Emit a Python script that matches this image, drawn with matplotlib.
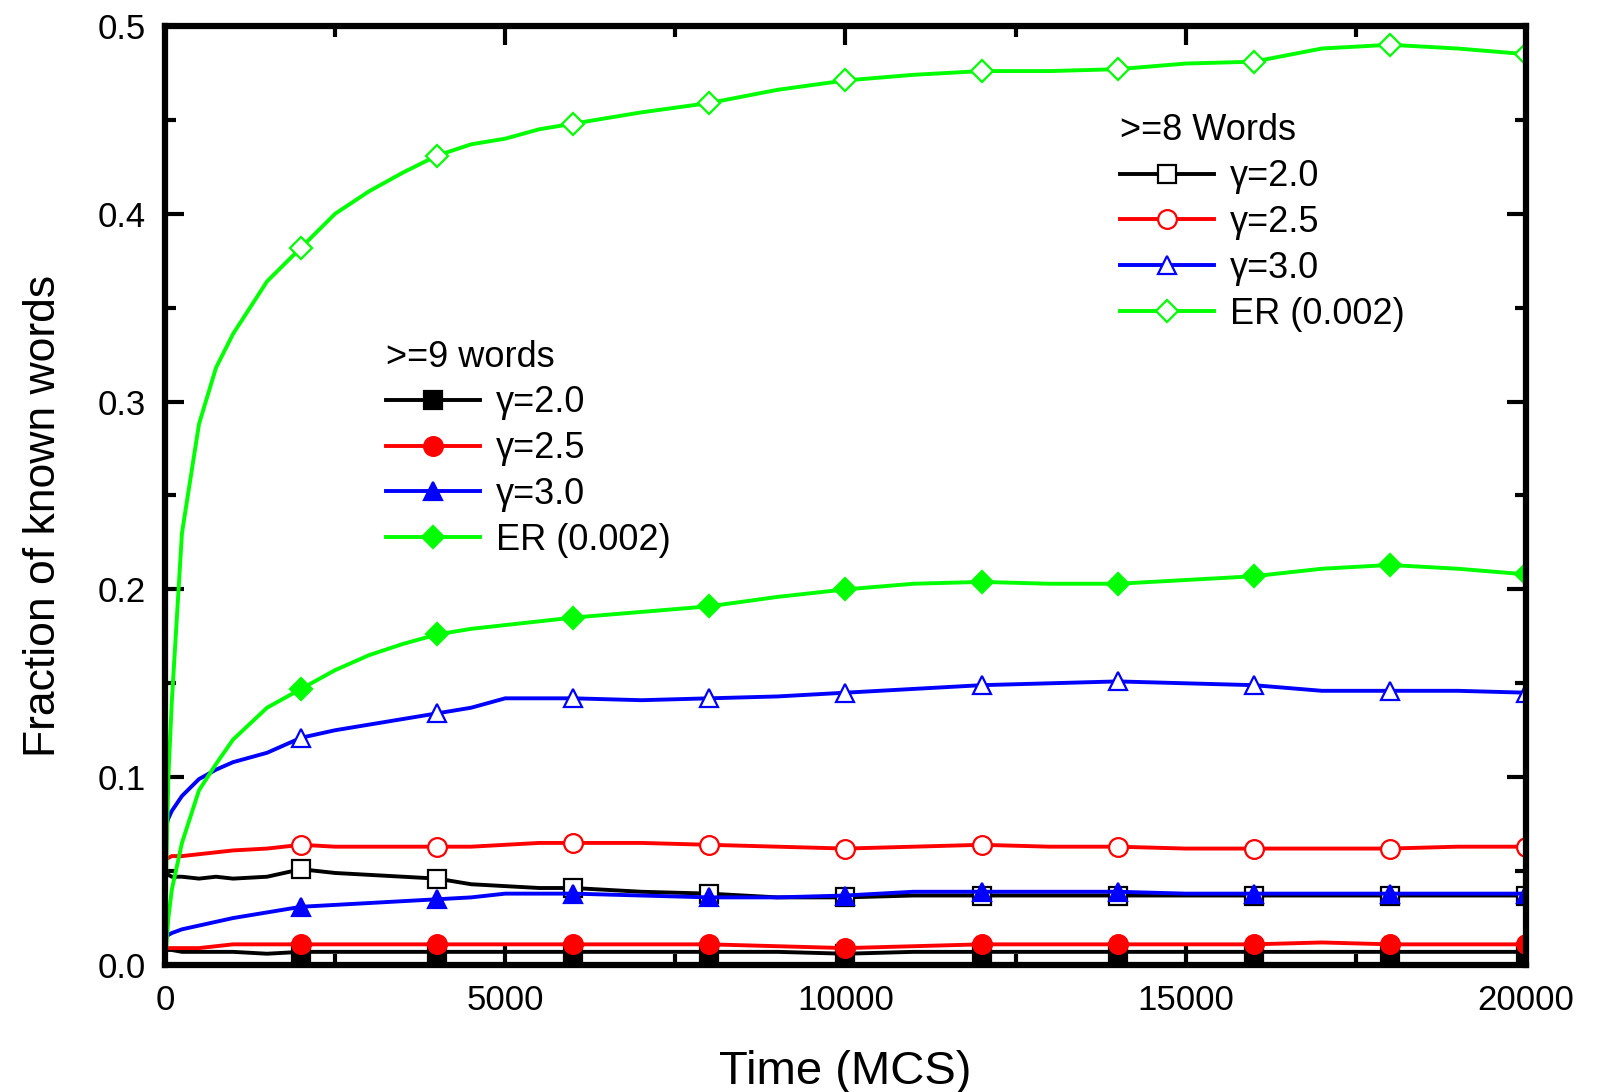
import matplotlib
matplotlib.use("Agg")
import matplotlib.pyplot as plt
from matplotlib.ticker import MultipleLocator, FormatStrFormatter

plt.rcParams["font.family"] = ["Liberation Sans", "DejaVu Sans"]

# Time axis (MCS)
T = [0, 50, 100, 250, 500, 750, 1000, 1500, 2000, 2500, 3000, 3500, 4000, 4500,
     5000, 5500, 6000, 7000, 8000, 9000, 10000, 11000, 12000, 13000, 14000,
     15000, 16000, 17000, 18000, 19000, 20000]

# >=8 Words
w8_g20 = [0.049, 0.048, 0.047, 0.047, 0.046, 0.047, 0.046, 0.047, 0.051, 0.049,
          0.048, 0.047, 0.046, 0.043, 0.042, 0.041, 0.041, 0.039, 0.038, 0.036,
          0.036, 0.037, 0.037, 0.037, 0.037, 0.037, 0.037, 0.037, 0.037, 0.037, 0.037]
w8_g25 = [0.057, 0.057, 0.058, 0.058, 0.059, 0.060, 0.061, 0.062, 0.064, 0.063,
          0.063, 0.063, 0.063, 0.063, 0.064, 0.065, 0.065, 0.065, 0.064, 0.063,
          0.062, 0.063, 0.064, 0.063, 0.063, 0.062, 0.062, 0.062, 0.062, 0.063, 0.063]
w8_g30 = [0.072, 0.078, 0.082, 0.090, 0.099, 0.104, 0.108, 0.113, 0.121, 0.125,
          0.128, 0.131, 0.134, 0.137, 0.142, 0.142, 0.142, 0.141, 0.142, 0.143,
          0.145, 0.147, 0.149, 0.150, 0.151, 0.150, 0.149, 0.146, 0.146, 0.146, 0.145]
w8_er = [0.020, 0.100, 0.140, 0.230, 0.288, 0.318, 0.336, 0.364, 0.382, 0.400,
         0.412, 0.422, 0.431, 0.437, 0.440, 0.445, 0.448, 0.454, 0.459, 0.466,
         0.471, 0.474, 0.476, 0.476, 0.477, 0.480, 0.481, 0.488, 0.490, 0.488, 0.485]

# >=9 words
w9_g20 = [0.008, 0.008, 0.008, 0.007, 0.007, 0.007, 0.007, 0.006, 0.007, 0.007,
          0.007, 0.007, 0.007, 0.007, 0.007, 0.007, 0.007, 0.007, 0.007, 0.007,
          0.006, 0.007, 0.007, 0.007, 0.007, 0.007, 0.007, 0.007, 0.007, 0.007, 0.007]
w9_g25 = [0.009, 0.009, 0.009, 0.009, 0.009, 0.010, 0.011, 0.011, 0.011, 0.011,
          0.011, 0.011, 0.011, 0.011, 0.011, 0.011, 0.011, 0.011, 0.011, 0.010,
          0.009, 0.010, 0.011, 0.011, 0.011, 0.011, 0.011, 0.012, 0.011, 0.011, 0.011]
w9_g30 = [0.015, 0.016, 0.017, 0.019, 0.021, 0.023, 0.025, 0.028, 0.031, 0.032,
          0.033, 0.034, 0.035, 0.036, 0.038, 0.038, 0.038, 0.037, 0.036, 0.036,
          0.037, 0.039, 0.039, 0.039, 0.039, 0.038, 0.038, 0.038, 0.038, 0.038, 0.038]
w9_er = [0.000, 0.025, 0.040, 0.065, 0.093, 0.107, 0.120, 0.137, 0.147, 0.157,
         0.165, 0.171, 0.176, 0.179, 0.181, 0.183, 0.185, 0.188, 0.191, 0.196,
         0.200, 0.203, 0.204, 0.203, 0.203, 0.205, 0.207, 0.211, 0.213, 0.211, 0.208]

labels = ["γ=2.0", "γ=2.5", "γ=3.0", "ER (0.002)"]
colors = ["#000000", "#ff0000", "#0000ff", "#00ff00"]
markers = ["s", "o", "^", "D"]

# markers every 2000 MCS
mark_idx = [i for i, t in enumerate(T) if t > 0 and t % 2000 == 0]

fig = plt.figure(figsize=(16, 10.92), dpi=100)
ax = fig.add_axes([0.1031, 0.1163, 0.8506, 0.8599])

h8 = []
for ys, c, m in zip([w8_g20, w8_g25, w8_g30, w8_er], colors, markers):
    ms = 11.5 if m == "D" else 13.5
    ln, = ax.plot(T, ys, color=c, lw=2.8, marker=m, ms=ms, mfc="white", mec=c,
                  mew=1.6, markevery=mark_idx)
    h8.append(ln)

h9 = []
for ys, c, m in zip([w9_g20, w9_g25, w9_g30, w9_er], colors, markers):
    ms = 11.5 if m == "D" else 13.5
    ln, = ax.plot(T, ys, color=c, lw=2.8, marker=m, ms=ms, mfc=c, mec=c,
                  mew=1.6, markevery=mark_idx)
    h9.append(ln)

ax.set_xlim(0, 20000)
ax.set_ylim(0, 0.5)
ax.xaxis.set_major_locator(MultipleLocator(5000))
ax.xaxis.set_minor_locator(MultipleLocator(2500))
ax.yaxis.set_major_locator(MultipleLocator(0.1))
ax.yaxis.set_minor_locator(MultipleLocator(0.05))
ax.yaxis.set_major_formatter(FormatStrFormatter("%.1f"))

for s in ax.spines.values():
    s.set_linewidth(4.5)
ax.tick_params(which="both", direction="in", top=True, right=True, width=3,
               labelsize=25, pad=14)
ax.tick_params(which="major", length=14)
ax.tick_params(which="minor", length=8)

ax.set_xlabel("Time (MCS)", fontsize=34)
ax.set_ylabel("Fraction of known words", fontsize=32)
ax.xaxis.set_label_coords(0.5, -0.0905)
ax.yaxis.set_label_coords(-0.074, 0.478)

leg_kw = dict(loc="upper left", frameon=False, fontsize=26, title_fontsize=26,
              alignment="left", handlelength=2.6, handletextpad=0.45,
              labelspacing=0.3, borderpad=0, borderaxespad=0)
leg1 = ax.legend(h8, labels, title=">=8 Words", bbox_to_anchor=(0.7017, 0.907), **leg_kw)
ax.add_artist(leg1)
ax.legend(h9, labels, title=">=9 words", bbox_to_anchor=(0.1624, 0.666), **leg_kw)

fig.savefig("out.png", dpi=100)
